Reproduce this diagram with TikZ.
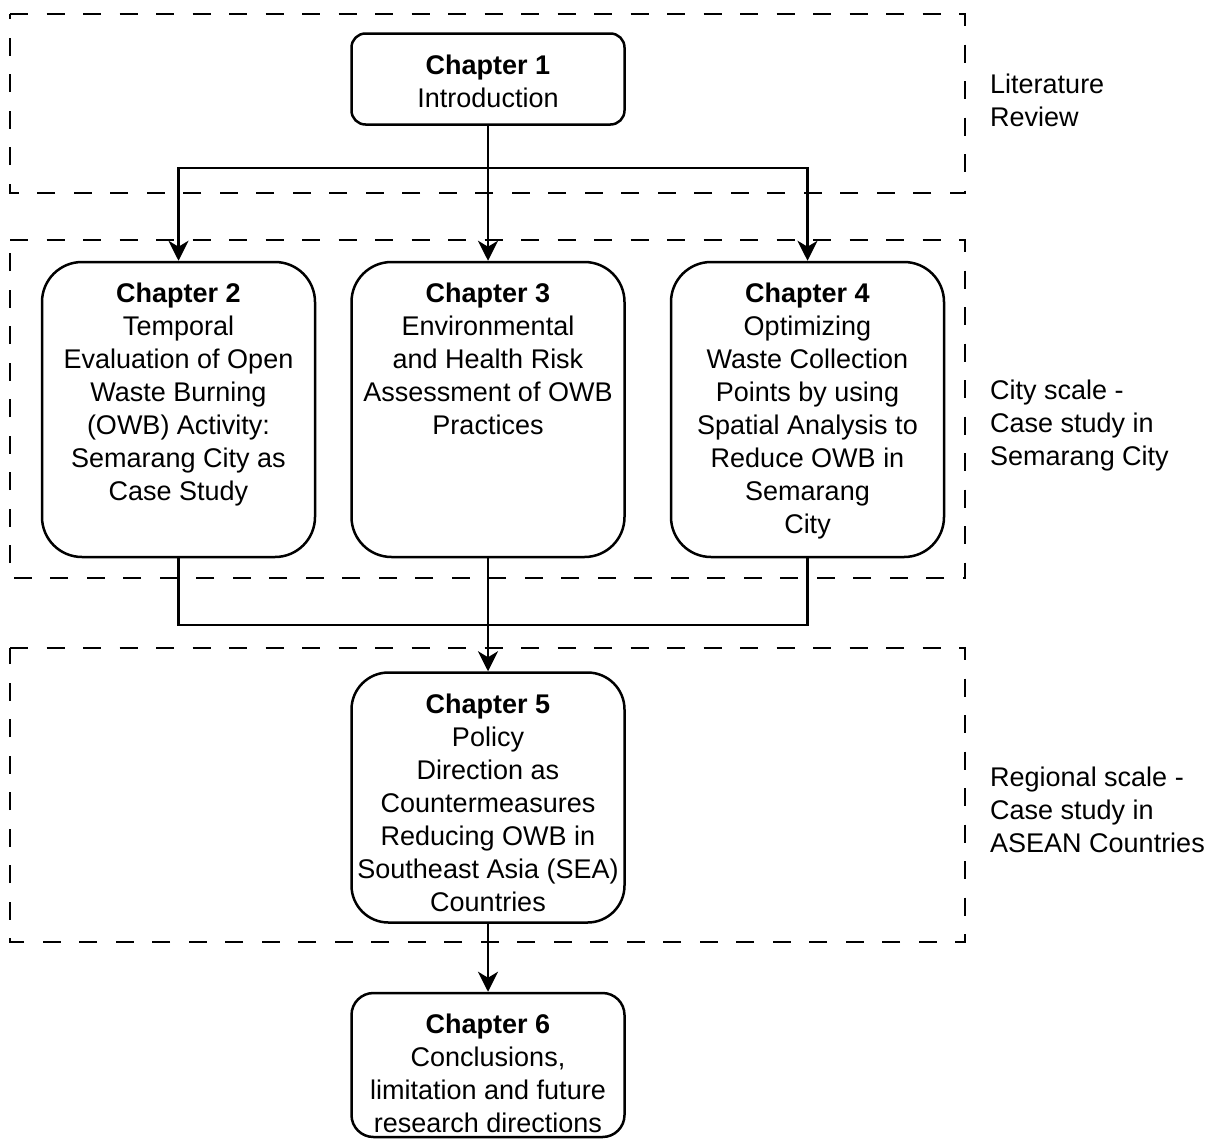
\documentclass[tikz,border=0pt]{standalone}
\usepackage{fontspec}
\setmainfont{Liberation Sans}
\usetikzlibrary{positioning,arrows.meta}

\begin{document}
\begin{tikzpicture}[x=1pt, y=-1pt,
		chap/.style={draw, fill=white, line width=2.5pt, rounded corners=#1, minimum width=273pt, inner sep=0pt},
		chap/.default=40pt,
		chaptext/.style={anchor=north, align=center, inner sep=0pt, yshift=-22pt, font=\fontsize{27}{33}\selectfont},
		scaletext/.style={anchor=north west, align=left, inner sep=0pt, font=\fontsize{27}{33}\selectfont},
		region/.style={line width=2.5pt, dash pattern=on 18pt off 18.5pt},
		link/.style={line width=2.5pt},
		arr/.style={line width=2.5pt, -{Stealth[length=20pt, width=20pt, inset=6pt]}}]
		\useasboundingbox (0,0) rectangle (1215,1141);

		% scale regions
		\draw[region] (10,14) -- (965,14) -- (965,193) -- (10,193) -- cycle;
		\draw[region] (10,240) -- (965,240) -- (965,578) -- (10,578) -- cycle;
		\draw[region] (10,648) -- (965,648) -- (965,942) -- (10,942) -- cycle;

		% chapter boxes
		\node[chap, minimum height=295pt] (c3) at (488,409.5) {} ;
		\node[chap, minimum height=295pt, left=34pt of c3] (c2) {} ;
		\node[chap, minimum height=295pt, right=44pt of c3] (c4) {} ;
		\node[chap=14pt, minimum height=91pt, above=135pt of c3] (c1) {} ;
		\node[chap=37pt, minimum height=250pt, below=113pt of c3] (c5) {} ;
		\node[chap=22pt, minimum height=144pt, below=68pt of c5] (c6) {} ;

		\node[chaptext] (t1) at (c1.north) {\textbf{Chapter 1}\\Introduction} ;
		\node[chaptext] (t2) at (c2.north) {\textbf{Chapter 2}\\Temporal\\Evaluation of Open\\Waste Burning\\(OWB) Activity:\\Semarang City as\\Case Study} ;
		\node[chaptext] (t3) at (c3.north) {\textbf{Chapter 3}\\Environmental\\and Health Risk\\Assessment of OWB\\Practices} ;
		\node[chaptext] (t4) at (c4.north) {\textbf{Chapter 4}\\Optimizing\\Waste Collection\\Points by using\\Spatial Analysis to\\Reduce OWB in\\Semarang\\City} ;
		\node[chaptext] (t5) at (c5.north) {\textbf{Chapter 5}\\Policy\\Direction as\\Countermeasures\\Reducing OWB in\\Southeast Asia (SEA)\\Countries} ;
		\node[chaptext] (t6) at (c6.north) {\textbf{Chapter 6}\\Conclusions,\\limitation and future\\research directions} ;

		% scale labels
		\node[scaletext] (lit) at (990,74) {Literature\\Review} ;
		\node[scaletext] (city) at (990,380) {City scale -\\Case study in\\Semarang City} ;
		\node[scaletext] (reg) at (990,767) {Regional scale -\\Case study in\\ASEAN Countries} ;

		% connectors
		\coordinate (split) at (c1.south |- 0,168) ;
		\coordinate (merge) at (c3.south |- 0,625) ;
		\draw[arr] (c1.south) -- (c3.north) ;
		\draw[arr] (split) -| (c2.north) ;
		\draw[arr] (split) -| (c4.north) ;
		\draw[link] (c2.south) |- (merge) ;
		\draw[link] (c4.south) |- (merge) ;
		\draw[arr] (c3.south) -- (c5.north) ;
		\draw[arr] (c5.south) -- (c6.north) ;
\end{tikzpicture}
\end{document}
